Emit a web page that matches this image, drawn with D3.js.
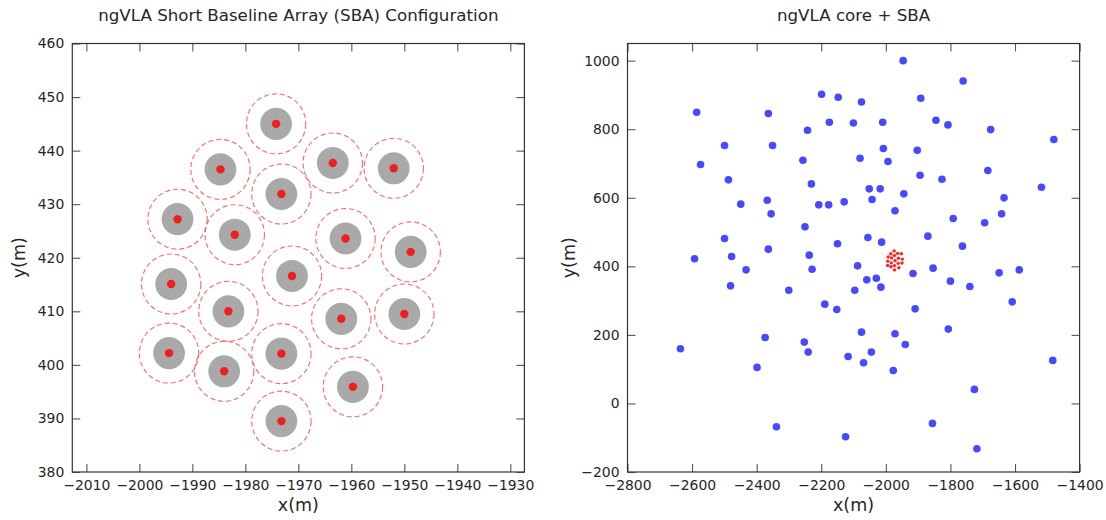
<!DOCTYPE html>
<html>
<head>
<meta charset="utf-8">
<script src="https://cdn.jsdelivr.net/npm/d3@7"></script>
<style>
  body { margin: 0; background: #fff; }
  svg { display: block; font-family: "DejaVu Sans", sans-serif; }
  .tick text { fill: #262626; }
</style>
</head>
<body>
<svg id="chart" width="1106" height="520"></svg>
<script>
// SBA antenna positions (m)
var sbaX = [-1974.2, -1984.7, -1973.2, -1963.5, -1952.0, -1992.8, -1982.0, -1961.1, -1948.8, -1994.0,
            -1971.2, -1983.2, -1961.9, -1950.0, -1994.4, -1984.0, -1973.2, -1959.7, -1973.2];
var sbaY = [445.0, 436.5, 431.9, 437.7, 436.7, 427.2, 424.3, 423.6, 421.1, 415.1,
            416.6, 410.0, 408.6, 409.5, 402.2, 398.8, 402.1, 395.9, 389.5];

// ngVLA core antenna positions (m)
var coreX = [-1946.4, -1760.7, -2198.9, -2147.5, -2075.4, -1891.8, -2585.8, -2363.9, -2174.9, -2100.5,
             -2009.8, -1844.8, -1807.7, -1675.4, -2242.6, -1479.8, -2499.5, -2350.8, -2007.7, -1902.7,
             -2573.8, -2256.8, -2079.8, -1993.4, -1684.2, -2487.4, -2230.6, -1894.0, -1826.2, -2051.4,
             -2017.5, -1518.0, -1944.3, -1633.9, -2449.2, -2367.2, -2207.7, -2177.0, -2129.0, -2042.6,
             -2355.2, -1971.6, -1641.5, -1791.3, -1694.0, -2250.3, -2499.5, -2363.9, -2149.7, -2055.7,
             -2013.1, -1869.9, -1762.8, -2592.3, -2477.6, -2237.2, -2432.8, -2228.4, -2087.4, -1853.6,
             -1586.9, -1649.2, -1915.8, -2480.9, -2300.5, -2059.0, -2029.5, -2015.3, -2096.2, -1800.0,
             -1739.9, -1608.7, -2189.1, -2151.9, -1909.3, -1806.6, -2075.4, -1971.6, -2373.8, -2252.5,
             -1939.9, -2636.1, -2240.4, -2044.8, -2116.9, -1483.1, -2068.9, -2398.9, -1977.0, -1725.7,
             -1855.7, -2338.8, -2124.6, -1718.0];
var coreY = [1000.0, 940.7, 901.9, 893.1, 879.5, 890.2, 849.4, 845.5, 820.3, 818.3,
             820.3, 826.1, 812.5, 798.9, 797.0, 769.8, 752.3, 752.3, 743.5, 738.7,
             696.9, 709.5, 715.4, 705.6, 679.4, 652.2, 640.5, 665.8, 654.1, 626.0,
             626.0, 630.8, 611.4, 599.7, 581.3, 592.9, 579.3, 579.3, 588.1, 594.9,
             553.1, 561.9, 553.1, 539.5, 526.9, 515.2, 481.2, 450.1, 465.7, 484.1,
             470.5, 488.0, 458.9, 422.0, 428.5, 432.6, 389.7, 391.6, 401.4, 394.6,
             389.7, 381.0, 379.0, 343.1, 330.4, 360.6, 365.4, 339.2, 330.4, 356.7,
             341.1, 296.4, 289.6, 274.1, 276.0, 216.8, 208.0, 203.2, 192.5, 178.9,
             172.1, 159.5, 149.7, 149.7, 137.1, 125.5, 118.7, 105.1, 96.3, 40.9,
             -58.2, -67.9, -97.0, -132.0];

var dishRadius = 3.0;
var spacingRadius = 5.6;

var leftXTicks = [-2010, -2000, -1990, -1980, -1970, -1960, -1950, -1940, -1930];
var leftYTicks = [380, 390, 400, 410, 420, 430, 440, 450, 460];
var rightXTicks = [-2800, -2600, -2400, -2200, -2000, -1800, -1600, -1400];
var rightYTicks = [-200, 0, 200, 400, 600, 800, 1000];

var svg = d3.select('#chart');
var plotTop = 43.5, plotBottom = 472;
var fmt = d3.format('d');

function makePanel(left, right, xDomain, yDomain, xTicks, yTicks, title, yLabelGap) {
  var x = d3.scaleLinear().domain(xDomain).range([left, right]);
  var y = d3.scaleLinear().domain(yDomain).range([plotBottom, plotTop]);
  var g = svg.append('g');

  g.append('g').attr('transform', 'translate(0,' + plotBottom + ')')
    .call(d3.axisBottom(x).tickValues(xTicks).tickFormat(fmt).tickSizeInner(-8).tickSizeOuter(0).tickPadding(8));
  g.append('g').attr('transform', 'translate(0,' + plotTop + ')')
    .call(d3.axisTop(x).tickValues(xTicks).tickFormat('').tickSizeInner(-8).tickSizeOuter(0));
  g.append('g').attr('transform', 'translate(' + left + ',0)')
    .call(d3.axisLeft(y).tickValues(yTicks).tickFormat(fmt).tickSizeInner(-8).tickSizeOuter(0).tickPadding(8));
  g.append('g').attr('transform', 'translate(' + right + ',0)')
    .call(d3.axisRight(y).tickValues(yTicks).tickFormat('').tickSizeInner(-8).tickSizeOuter(0));

  g.selectAll('.domain').remove();
  g.selectAll('.tick line').attr('stroke', '#555').attr('stroke-width', 1.1);
  g.selectAll('.tick text').attr('font-size', '13.9px').attr('font-family', 'DejaVu Sans');

  g.append('rect')
    .attr('x', left).attr('y', plotTop)
    .attr('width', right - left).attr('height', plotBottom - plotTop)
    .attr('fill', 'none').attr('stroke', '#333').attr('stroke-width', 1.2);

  g.append('text')
    .attr('x', (left + right) / 2).attr('y', 21)
    .attr('text-anchor', 'middle').attr('font-size', '16.7px').attr('fill', '#262626')
    .text(title);
  g.append('text')
    .attr('x', (left + right) / 2).attr('y', 511)
    .attr('text-anchor', 'middle').attr('font-size', '17.5px').attr('fill', '#262626')
    .text('x(m)');
  g.append('text')
    .attr('transform', 'translate(' + (left - yLabelGap) + ',' + ((plotTop + plotBottom) / 2) + ') rotate(-90)')
    .attr('text-anchor', 'middle').attr('font-size', '17.5px').attr('fill', '#262626')
    .text('y(m)');

  return { x: x, y: y, g: g };
}

// left panel: SBA configuration
var p1 = makePanel(72.3, 524.4, [-2012.66, -1927.34], [380, 460], leftXTicks, leftYTicks,
  'ngVLA Short Baseline Array (SBA) Configuration', 47);
var sba = d3.range(sbaX.length);

p1.g.append('g').selectAll('ellipse').data(sba).join('ellipse')
  .attr('cx', function (i) { return p1.x(sbaX[i]); })
  .attr('cy', function (i) { return p1.y(sbaY[i]); })
  .attr('rx', p1.x(sbaX[0] + spacingRadius) - p1.x(sbaX[0]))
  .attr('ry', p1.y(sbaY[0] - spacingRadius) - p1.y(sbaY[0]))
  .attr('fill', 'none')
  .attr('stroke', '#ff4d4d').attr('stroke-opacity', 0.85)
  .attr('stroke-width', 1.1).attr('stroke-dasharray', '5,3');

p1.g.append('g').selectAll('ellipse').data(sba).join('ellipse')
  .attr('cx', function (i) { return p1.x(sbaX[i]); })
  .attr('cy', function (i) { return p1.y(sbaY[i]); })
  .attr('rx', p1.x(sbaX[0] + dishRadius) - p1.x(sbaX[0]))
  .attr('ry', p1.y(sbaY[0] - dishRadius) - p1.y(sbaY[0]))
  .attr('fill', '#a9a9a9');

p1.g.append('g').selectAll('circle').data(sba).join('circle')
  .attr('cx', function (i) { return p1.x(sbaX[i]); })
  .attr('cy', function (i) { return p1.y(sbaY[i]); })
  .attr('r', 4.2)
  .attr('fill', '#ee1f1f');

// right panel: core + SBA
var p2 = makePanel(627.5, 1079.6, [-2800, -1400], [-200, 1050], rightXTicks, rightYTicks,
  'ngVLA core + SBA', 53);

p2.g.append('g').selectAll('circle').data(d3.range(coreX.length)).join('circle')
  .attr('cx', function (i) { return p2.x(coreX[i]); })
  .attr('cy', function (i) { return p2.y(coreY[i]); })
  .attr('r', 3.8)
  .attr('fill', '#4848ff');

p2.g.append('g').selectAll('circle').data(sba).join('circle')
  .attr('cx', function (i) { return p2.x(sbaX[i]); })
  .attr('cy', function (i) { return p2.y(sbaY[i]); })
  .attr('r', 1.7)
  .attr('fill', '#ff2222');
</script>
</body>
</html>
